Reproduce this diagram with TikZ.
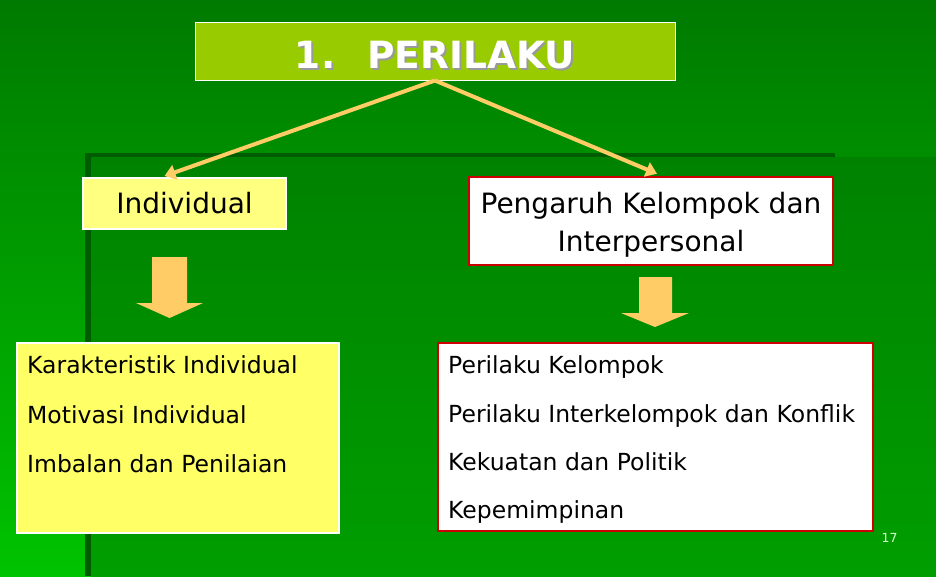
\documentclass[tikz,border=0pt]{standalone}
\usepackage{fontspec}
\setmainfont{DejaVu Sans}
\usetikzlibrary{arrows.meta,calc}

\definecolor{hijauatas}{RGB}{0,122,0}
\definecolor{hijaubawah}{RGB}{0,195,0}
\definecolor{dalamatas}{RGB}{0,130,0}
\definecolor{dalambawah}{RGB}{0,158,0}
\definecolor{garisgelap}{RGB}{0,92,0}
\definecolor{judulhijau}{RGB}{153,204,0}
\definecolor{oranye}{RGB}{255,204,102}
\definecolor{kuningmuda}{RGB}{255,255,128}
\definecolor{kuning}{RGB}{255,255,102}
\definecolor{merah}{RGB}{204,0,0}
\definecolor{hijaumuda}{RGB}{210,255,210}

\newcommand{\teksbayang}[1]{\makebox[0pt][l]{\raisebox{-2pt}{\hspace{2pt}\textcolor{black!40}{#1}}}#1}

\tikzset{
  kotakkuning/.style={draw=white, line width=2pt, inner sep=0pt},
  kotakmerah/.style={draw=merah, fill=white, line width=2.5pt, inner sep=0pt},
  panah/.style={oranye, line width=4pt, -{Triangle[width=15pt,length=11pt]}},
  butir/.style={anchor=base west, inner sep=0pt, font=\fontsize{23.5}{28}\selectfont},
}

\begin{document}
\begin{tikzpicture}[x=1pt,y=-1pt]

\useasboundingbox (0,0) rectangle (936,576);

% latar
\shade[top color=hijauatas, bottom color=hijaubawah] (0,0) rectangle (936,576);
\shade[top color=dalamatas, bottom color=dalambawah] (91,157) rectangle (936,576);
\fill[garisgelap] (85,153) rectangle (835,157);
\fill[garisgelap] (85,153) rectangle (91,576);

% judul
\node[draw=white, line width=1pt, fill=judulhijau, minimum width=480pt, minimum height=58pt,
      inner sep=0pt, text height=34pt, text depth=0pt, text=white,
      font=\bfseries\fontsize{37.5}{40}\selectfont] (judul) at (435,51)
      {\teksbayang{1.\hspace{32pt}PERILAKU}};

\node[kotakkuning, fill=kuningmuda, minimum width=203pt, minimum height=51pt,
      font=\fontsize{28}{38}\selectfont] (indiv) at (184.5,203.5) {Individual};

\node[kotakmerah, minimum width=364pt, minimum height=88pt, align=center,
      font=\fontsize{28}{38}\selectfont] (pengaruh) at (651,221)
      {\rule{0pt}{29pt}Pengaruh Kelompok dan\\Interpersonal};

\draw[panah] (judul.south) -- ($(indiv.north)+(-20,-1)$);
\draw[panah] (judul.south) -- ($(pengaruh.north)+(6,-2)$);

% panah blok
\fill[oranye] (152,257) -- (187,257) -- (187,303) -- (203,303) -- (169.5,318)
  -- (136,303) -- (152,303) -- cycle;
\fill[oranye] (639,277) -- (672,277) -- (672,313) -- (689,313) -- (655,327)
  -- (621,313) -- (639,313) -- cycle;

% daftar kiri
\node[kotakkuning, fill=kuning, minimum width=322pt, minimum height=190pt] (ciri) at (178,438) {};
\node[butir] (ciri1) at (27,373) {Karakteristik Individual};
\node[butir] (ciri2) at (27,423) {Motivasi Individual};
\node[butir] (ciri3) at (27,472) {Imbalan dan Penilaian};

% daftar kanan
\node[kotakmerah, minimum width=435pt, minimum height=188pt] (kelompok) at (655.5,437) {};
\node[butir] (kel1) at (448,373) {Perilaku Kelompok};
\node[butir] (kel2) at (448,422) {Perilaku Interkelompok dan Konflik};
\node[butir] (kel3) at (448,470.5) {Kekuatan dan Politik};
\node[butir] (kel4) at (448,518) {Kepemimpinan};

\node[text=hijaumuda, inner sep=0pt, font=\fontsize{12.5}{14}\selectfont] (halaman) at (889.5,538) {17};

\end{tikzpicture}
\end{document}
